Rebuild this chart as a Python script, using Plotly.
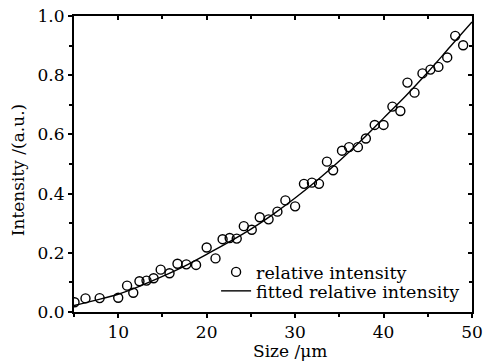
import plotly.graph_objects as go

# measured points
size_um = [5.06, 6.3, 7.9, 10.0, 11.0, 11.7, 12.4, 13.2, 14.0, 14.8, 15.8, 16.7, 17.7, 18.8,
           20.0, 21.0, 21.8, 22.6, 23.4, 24.2, 25.1, 26.0, 27.0, 28.0, 28.9, 30.0, 31.0,
           31.9, 32.7, 33.6, 34.3, 35.3, 36.1, 37.1, 38.0, 39.0, 40.0, 41.0, 41.9, 42.7,
           43.5, 44.4, 45.3, 46.2, 47.2, 48.1, 49.0, 50.4]
rel_intensity = [0.033, 0.046, 0.047, 0.048, 0.089, 0.065, 0.104, 0.106, 0.114, 0.143, 0.131,
                 0.163, 0.161, 0.159, 0.218, 0.181, 0.246, 0.25, 0.248, 0.29, 0.278, 0.32,
                 0.313, 0.339, 0.377, 0.357, 0.433, 0.437, 0.433, 0.508, 0.479, 0.545, 0.557,
                 0.557, 0.586, 0.632, 0.632, 0.694, 0.679, 0.775, 0.741, 0.806, 0.819, 0.828,
                 0.86, 0.933, 0.901, 1.012]

# fitted curve
fit_size = [5, 7.5, 10, 12.5, 15, 17.5, 20, 22.5, 25, 27.5, 30, 32.5, 35, 37.5, 40, 42.5, 45, 47.5, 50]
fit_intensity = [0.022, 0.04, 0.06, 0.088, 0.12, 0.155, 0.195, 0.236, 0.28, 0.33, 0.385, 0.445,
                 0.51, 0.58, 0.655, 0.73, 0.81, 0.895, 0.98]

x_ticks = [10, 20, 30, 40, 50]
y_ticks = [0.0, 0.2, 0.4, 0.6, 0.8, 1.0]

FONT = "DejaVu Serif, Liberation Serif, serif"

fig = go.Figure()
fig.add_trace(go.Scatter(
    x=size_um, y=rel_intensity, mode="markers", name="relative intensity",
    marker=dict(symbol="circle-open", size=9, color="black", line=dict(width=1.4, color="black")),
    cliponaxis=True, legend="legend",
))
fig.add_trace(go.Scatter(
    x=fit_size, y=fit_intensity, mode="lines", name="fitted relative intensity",
    line=dict(color="black", width=1.4, shape="spline", smoothing=1.0),
    legend="legend2",
))
# dummy trace for mirrored axes with inward ticks
fig.add_trace(go.Scatter(
    x=fit_size, y=fit_intensity, xaxis="x2", yaxis="y2", mode="lines",
    line=dict(width=0, color="rgba(0,0,0,0)"), showlegend=False, hoverinfo="skip",
))

axis_common = dict(showgrid=False, zeroline=False, showline=True, linecolor="black",
                   linewidth=2, tickcolor="black", tickwidth=1.5, automargin=False)
minor_style = dict(ticklen=3, tickcolor="black", tickwidth=1.5)
tick_font = dict(family=FONT, size=17, color="black")

fig.update_layout(
    width=486, height=362,
    margin=dict(l=74, r=14, t=16, b=50),
    paper_bgcolor="white", plot_bgcolor="white",
    font=dict(family=FONT, size=17, color="black"),
    xaxis=dict(range=[5, 50], tickvals=x_ticks, ticks="outside", ticklen=4,
               minor=dict(dtick=5, tick0=0, ticks="outside", **minor_style),
               tickfont=tick_font, **axis_common),
    yaxis=dict(range=[0, 1], tickvals=y_ticks, tickformat=".1f", ticks="outside", ticklen=4,
               minor=dict(dtick=0.1, tick0=0, ticks="outside", **minor_style),
               tickfont=tick_font, **axis_common),
    xaxis2=dict(overlaying="x", matches="x", side="top", range=[5, 50], tickvals=x_ticks,
                ticks="inside", ticklen=4, showticklabels=False,
                minor=dict(dtick=5, tick0=0, ticks="inside", **minor_style),
                **axis_common),
    yaxis2=dict(overlaying="y", matches="y", side="right", range=[0, 1], tickvals=y_ticks,
                ticks="inside", ticklen=4, showticklabels=False,
                minor=dict(dtick=0.1, tick0=0, ticks="inside", **minor_style),
                **axis_common),
    legend=dict(x=0.357, y=0.135, xanchor="left", yanchor="middle", bgcolor="rgba(0,0,0,0)",
                font=dict(family=FONT, size=17.5, color="black"), itemwidth=30),
    legend2=dict(x=0.357, y=0.071, xanchor="left", yanchor="middle", bgcolor="rgba(0,0,0,0)",
                 font=dict(family=FONT, size=17.5, color="black"), itemwidth=30),
    showlegend=True,
    annotations=[
        dict(text="Size /μm", xref="paper", yref="paper", x=0.543, y=-0.132,
             xanchor="center", yanchor="middle", showarrow=False,
             font=dict(family=FONT, size=17, color="black")),
        dict(text="Intensity /(a.u.)", xref="paper", yref="paper", x=-0.14, y=0.48,
             xanchor="center", yanchor="middle", showarrow=False, textangle=-90,
             font=dict(family=FONT, size=17, color="black")),
    ],
)

fig.write_html("out.html", config={"displayModeBar": False},
               post_script="document.body.style.margin='0';document.body.style.overflow='hidden';")
